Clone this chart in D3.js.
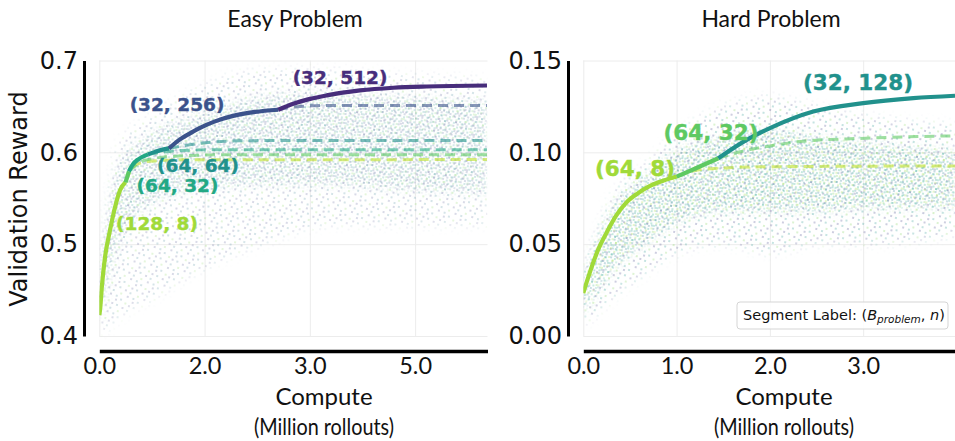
<!DOCTYPE html>
<html>
<head>
<meta charset="utf-8">
<script src="https://cdn.jsdelivr.net/npm/d3@7"></script>
<style>
  body { margin: 0; background: #fff; }
  svg { display: block; }
</style>
</head>
<body>
<div id="chart"></div>
<script>
// Easy problem: ticks
var easyXTicks = [0, 1.6, 3.2, 4.8];
var easyXTickLabels = ["0.0", "2.0", "3.0", "5.0"];
var easyYTicks = [0.4, 0.5, 0.6, 0.7];
var easyYTickLabels = ["0.4", "0.5", "0.6", "0.7"];

// Easy problem: solid segments (x in million rollouts, y = validation reward)
var easySegLabels = ["(128, 8)", null, "(64, 32)", "(64, 64)", "(32, 256)", "(32, 512)"];
var easySegX = [
	[0, 0.011, 0.041, 0.087, 0.163, 0.239, 0.315, 0.398],
	[0.398, 0.451],
	[0.451, 0.512, 0.593, 0.740],
	[0.740, 0.847, 0.948, 1.059],
	[1.059, 1.226, 1.378, 1.530, 1.758, 2.032, 2.366, 2.720],
	[2.720, 2.948, 3.202, 3.456, 3.962, 4.468, 4.976, 5.892]
];
var easySegY = [
	[0.4228, 0.4283, 0.4554, 0.4859, 0.5152, 0.5402, 0.5587, 0.5674],
	[0.5674, 0.5793],
	[0.5793, 0.5870, 0.5924, 0.5978],
	[0.5978, 0.6005, 0.6027, 0.6043],
	[0.6043, 0.6141, 0.6207, 0.6266, 0.6337, 0.6397, 0.6440, 0.6464],
	[0.6464, 0.6529, 0.6582, 0.6620, 0.6674, 0.6703, 0.6717, 0.6728]
];
// Easy problem: dashed continuations of the earlier segments
var easyDashX = [
	[0.398, 0.543, 0.771, 1.226, 5.892],
	[0.451, 0.695, 1.150, 1.986, 5.892],
	[0.740, 1.150, 1.834, 5.892],
	[1.059, 1.530, 2.138, 3.050, 5.892],
	[2.720, 3.050, 3.506, 5.892]
];
var easyDashY = [
	[0.5674, 0.5859, 0.5902, 0.5918, 0.5921],
	[0.5793, 0.5913, 0.5957, 0.5975, 0.5975],
	[0.5978, 0.6016, 0.6029, 0.6029],
	[0.6043, 0.6098, 0.6125, 0.6130, 0.6130],
	[0.6464, 0.6500, 0.6511, 0.6511]
];
// Easy problem: rollout cloud envelope (outer and dense core)
var easyCloudX = [0, 0.3, 0.8, 1.5, 2.5, 3.5, 4.5, 5.9];
var easyCloudLo = [0.40, 0.42, 0.44, 0.47, 0.50, 0.52, 0.52, 0.52];
var easyCloudHi = [0.47, 0.61, 0.64, 0.67, 0.69, 0.69, 0.685, 0.68];
var easyCoreLo = [0.41, 0.50, 0.545, 0.56, 0.565, 0.565, 0.56, 0.555];
var easyCoreHi = [0.46, 0.585, 0.62, 0.64, 0.66, 0.665, 0.66, 0.655];

// Hard problem: ticks
var hardXTicks = [0, 1, 2, 3];
var hardXTickLabels = ["0.0", "1.0", "2.0", "3.0"];
var hardYTicks = [0, 0.05, 0.10, 0.15];
var hardYTickLabels = ["0.00", "0.05", "0.10", "0.15"];

var hardSegLabels = ["(64, 8)", "(64, 32)", "(32, 128)"];
var hardSegX = [
	[0, 0.072, 0.158, 0.254, 0.350, 0.458, 0.576, 0.715, 0.854, 1.001],
	[1.001, 1.219, 1.447],
	[1.447, 1.751, 2.001, 2.465, 3.001, 3.537, 3.984]
];
var hardSegY = [
	[0.0234, 0.0349, 0.0469, 0.0567, 0.0654, 0.0725, 0.0774, 0.0817, 0.0845, 0.0868],
	[0.0868, 0.0916, 0.0968],
	[0.0968, 0.1068, 0.1132, 0.1222, 0.1268, 0.1295, 0.1308]
];
var hardDashX = [
	[1.001, 1.251, 1.894, 3.984],
	[1.447, 1.679, 2.001, 2.323, 3.030, 3.984]
];
var hardDashY = [
	[0.0868, 0.0905, 0.0921, 0.0926],
	[0.0968, 0.1003, 0.1035, 0.1059, 0.1077, 0.1090]
];
var hardCloudX = [0, 0.3, 0.7, 1.0, 1.5, 2.0, 2.5, 3.0, 4.0];
var hardCloudLo = [0.005, 0.02, 0.035, 0.045, 0.05, 0.045, 0.05, 0.05, 0.055];
var hardCloudHi = [0.035, 0.075, 0.095, 0.11, 0.125, 0.13, 0.125, 0.12, 0.115];
var hardCoreLo = [0.012, 0.035, 0.052, 0.062, 0.068, 0.068, 0.068, 0.07, 0.07];
var hardCoreHi = [0.03, 0.068, 0.088, 0.1, 0.108, 0.112, 0.108, 0.105, 0.10];

var W = 955, H = 441;
var svg = d3.select("#chart").append("svg").attr("width", W).attr("height", H);
var defs = svg.append("defs");

// dotted texture that stands in for the rollout scatter
var tileOuter = [[1, 2, 0], [6, 1, 1], [11, 4, 2], [3, 7, 1], [9, 9, 0], [14, 11, 1], [5, 13, 2], [12, 15, 0], [1, 16, 1], [15, 6, 0]];
var tileCore = [[1, 1, 0], [5, 2, 1], [3, 4, 2], [7, 5, 1], [1, 7, 1], [5, 8, 0], [8, 1, 2], [3, 6, 0]];
function dotPattern(id, size, tile, colors, opacity) {
	var p = defs.append("pattern")
		.attr("id", id)
		.attr("patternUnits", "userSpaceOnUse")
		.attr("width", size[0])
		.attr("height", size[1])
		.attr("patternTransform", "rotate(11)");
	tile.forEach(function(d) {
		p.append("circle").attr("cx", d[0]).attr("cy", d[1]).attr("r", 0.8)
			.attr("fill", colors[d[2]]).attr("fill-opacity", opacity);
	});
}
dotPattern("easyOuter", [17, 18], tileOuter, ["#414487", "#2a788e", "#7ad151"], 0.45);
dotPattern("easyCore", [9, 9], tileCore, ["#3b528b", "#21918c", "#5ec962"], 0.45);
dotPattern("hardOuter", [17, 18], tileOuter, ["#414487", "#21918c", "#7ad151"], 0.6);
dotPattern("hardCore", [9, 9], tileCore, ["#2a788e", "#22a884", "#a0da39"], 0.6);

var blur = defs.append("filter").attr("id", "soft").attr("x", "-10%").attr("y", "-20%").attr("width", "120%").attr("height", "140%");
blur.append("feGaussianBlur").attr("stdDeviation", 5);

function zip(xs, ys) { return xs.map(function(x, i) { return [x, ys[i]]; }); }

function panel(cfg) {
	var x = d3.scaleLinear().domain(cfg.xDomain).range(cfg.xRange);
	var y = d3.scaleLinear().domain(cfg.yDomain).range([336, 60.5]);
	var g = svg.append("g");

	g.append("clipPath").attr("id", cfg.id + "-clip")
		.append("rect")
		.attr("x", cfg.xRange[0]).attr("y", 56)
		.attr("width", cfg.xRange[1] - cfg.xRange[0]).attr("height", 284);

	// grid
	g.append("g").attr("transform", "translate(0,336)")
		.call(d3.axisBottom(x).tickValues(cfg.xTicks).tickSize(-275.5).tickFormat(""))
		.call(function(s) { s.select(".domain").remove(); s.selectAll("line").attr("stroke", "#ececec"); });
	g.append("g").attr("transform", "translate(" + cfg.xRange[0] + ",0)")
		.call(d3.axisLeft(y).tickValues(cfg.yTicks).tickSize(-(cfg.xRange[1] - cfg.xRange[0])).tickFormat(""))
		.call(function(s) { s.select(".domain").remove(); s.selectAll("line").attr("stroke", "#ececec"); });

	var plot = g.append("g").attr("clip-path", "url(#" + cfg.id + "-clip)");

	// scatter cloud, soft edged through blurred masks
	var area = d3.area().curve(d3.curveMonotoneX)
		.x(function(d) { return x(d[0]); })
		.y0(function(d) { return y(d[1]); })
		.y1(function(d) { return y(d[2]); });
	[["Outer", cfg.cloudLo, cfg.cloudHi], ["Core", cfg.coreLo, cfg.coreHi]].forEach(function(c) {
		var mid = cfg.id + c[0] + "-mask";
		defs.append("mask").attr("id", mid).attr("maskUnits", "userSpaceOnUse")
			.attr("x", 0).attr("y", 0).attr("width", W).attr("height", H)
			.append("path")
			.datum(cfg.cloudX.map(function(v, i) { return [v, c[1][i], c[2][i]]; }))
			.attr("fill", "#fff")
			.attr("filter", "url(#soft)")
			.attr("d", area);
		plot.append("rect")
			.attr("x", cfg.xRange[0]).attr("y", 56)
			.attr("width", cfg.xRange[1] - cfg.xRange[0]).attr("height", 284)
			.attr("fill", "url(#" + cfg.id + c[0] + ")")
			.attr("mask", "url(#" + mid + ")");
	});

	var line = d3.line().curve(d3.curveMonotoneX)
		.x(function(d) { return x(d[0]); })
		.y(function(d) { return y(d[1]); });

	plot.selectAll(".dash").data(cfg.dashX).enter().append("path")
		.attr("class", "dash")
		.attr("fill", "none")
		.attr("stroke", function(d, i) { return cfg.dashColors[i]; })
		.attr("stroke-opacity", 0.6)
		.attr("stroke-width", 3)
		.attr("stroke-dasharray", "10,6")
		.attr("d", function(d, i) { return line(zip(d, cfg.dashY[i])); });

	plot.selectAll(".seg").data(cfg.segX).enter().append("path")
		.attr("class", "seg")
		.attr("fill", "none")
		.attr("stroke", function(d, i) { return cfg.segColors[i]; })
		.attr("stroke-width", 4.2)
		.attr("d", function(d, i) { return line(zip(d, cfg.segY[i])); });

	// segment labels
	g.selectAll(".seglabel").data(cfg.segLabels).enter()
		.filter(function(d) { return d !== null; })
		.append("text")
		.attr("class", "seglabel")
		.attr("x", function(d) { return cfg.labelPos[d][0]; })
		.attr("y", function(d) { return cfg.labelPos[d][1]; })
		.attr("text-anchor", "middle")
		.attr("dominant-baseline", "central")
		.attr("font-family", "DejaVu Sans")
		.attr("font-weight", "bold")
		.attr("font-size", cfg.labelSize)
		.attr("fill", function(d) { return cfg.segColors[cfg.segLabels.indexOf(d)]; })
		.attr("stroke", function(d) { return cfg.segColors[cfg.segLabels.indexOf(d)]; })
		.attr("stroke-width", 0.4)
		.text(function(d) { return d; });

	// axes
	var ya = g.append("g").attr("transform", "translate(" + cfg.yAxisX + ",0)")
		.call(d3.axisLeft(y).tickValues(cfg.yTicks).tickSize(0).tickSizeOuter(0).tickPadding(6)
			.tickFormat(function(d, i) { return cfg.yTickLabels[i]; }));
	ya.select(".domain").attr("stroke", "#000").attr("stroke-width", 3);
	ya.selectAll("text").attr("font-family", "DejaVu Sans").attr("font-size", 24).attr("fill", "#111");

	var xa = g.append("g").attr("transform", "translate(0,351)")
		.call(d3.axisBottom(x).tickValues(cfg.xTicks).tickSize(0).tickSizeOuter(0).tickPadding(6)
			.tickFormat(function(d, i) { return cfg.xTickLabels[i]; }));
	xa.select(".domain").attr("stroke", "#000").attr("stroke-width", 3.5);
	xa.selectAll("text").attr("font-family", "Lato").attr("font-size", 23.5).attr("fill", "#111");

	g.append("text").attr("x", cfg.titleX).attr("y", 27)
		.attr("text-anchor", "middle").attr("font-family", "Lato").attr("font-size", 23).attr("fill", "#111")
		.text(cfg.title);
	var xl = g.append("text").attr("text-anchor", "middle")
		.attr("font-family", "Lato").attr("font-size", 24).attr("fill", "#111");
	xl.append("tspan").attr("x", cfg.xLabelX).attr("y", 405).text("Compute");
	xl.append("tspan").attr("x", cfg.xLabelX).attr("y", 435)
		.attr("textLength", 140).attr("lengthAdjust", "spacingAndGlyphs")
		.text("(Million rollouts)");
	return g;
}

panel({
	id: "easy", title: "Easy Problem", titleX: 295, xLabelX: 324,
	xDomain: [0, 5.9], xRange: [99.3, 487.5],
	yDomain: [0.4, 0.7], yAxisX: 84,
	xTicks: easyXTicks, xTickLabels: easyXTickLabels,
	yTicks: easyYTicks, yTickLabels: easyYTickLabels,
	segX: easySegX, segY: easySegY, segLabels: easySegLabels,
	segColors: ["#a0da39", "#5ec962", "#22a884", "#21918c", "#3b528b", "#472d7b"],
	dashX: easyDashX, dashY: easyDashY,
	dashColors: ["#bddf26", "#5ec962", "#22a884", "#21918c", "#3b528b"],
	cloudX: easyCloudX, cloudLo: easyCloudLo, cloudHi: easyCloudHi, coreLo: easyCoreLo, coreHi: easyCoreHi,
	labelSize: 18.5,
	labelPos: { "(32, 512)": [340, 77], "(32, 256)": [177, 104], "(64, 64)": [198, 165], "(64, 32)": [177.5, 185], "(128, 8)": [157, 223] }
});

panel({
	id: "hard", title: "Hard Problem", titleX: 771, xLabelX: 784,
	xDomain: [0, 4], xRange: [583.3, 956.5],
	yDomain: [0, 0.15], yAxisX: 568,
	xTicks: hardXTicks, xTickLabels: hardXTickLabels,
	yTicks: hardYTicks, yTickLabels: hardYTickLabels,
	segX: hardSegX, segY: hardSegY, segLabels: hardSegLabels,
	segColors: ["#a0da39", "#5ec962", "#21918c"],
	dashX: hardDashX, dashY: hardDashY,
	dashColors: ["#bddf26", "#5ec962"],
	cloudX: hardCloudX, cloudLo: hardCloudLo, cloudHi: hardCloudHi, coreLo: hardCoreLo, coreHi: hardCoreHi,
	labelSize: 21.5,
	labelPos: { "(32, 128)": [858, 82], "(64, 32)": [711, 132], "(64, 8)": [635, 168] }
});

// y label
svg.append("text")
	.attr("transform", "translate(27,199) rotate(-90)")
	.attr("text-anchor", "middle")
	.attr("font-family", "DejaVu Sans").attr("font-size", 24).attr("fill", "#111")
	.text("Validation Reward");

// legend box in hard panel
var lg = svg.append("g");
lg.append("rect").attr("x", 737).attr("y", 302).attr("width", 211).attr("height", 27)
	.attr("rx", 3).attr("fill", "#fff").attr("fill-opacity", 0.85)
	.attr("stroke", "#d5d5d5").attr("stroke-width", 1);
var lt = lg.append("text").attr("x", 743).attr("y", 320)
	.attr("font-family", "DejaVu Sans").attr("font-size", 14.5).attr("fill", "#111");
lt.append("tspan").text("Segment Label: (");
lt.append("tspan").attr("font-style", "italic").text("B");
lt.append("tspan").attr("font-style", "italic").attr("font-size", 10.5).attr("dy", 3).text("problem");
lt.append("tspan").attr("dy", -3).text(", ");
lt.append("tspan").attr("font-style", "italic").text("n");
lt.append("tspan").text(")");
</script>
</body>
</html>
